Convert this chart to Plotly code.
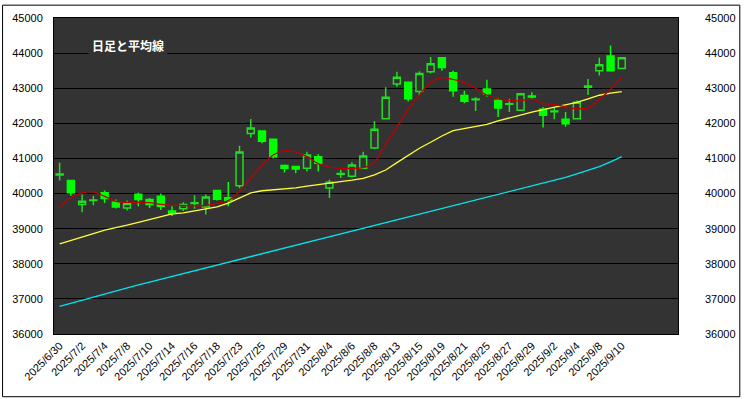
import plotly.graph_objects as go

dates = ["2025/6/30", "2025/7/1", "2025/7/2", "2025/7/3", "2025/7/4", "2025/7/7", "2025/7/8",
         "2025/7/9", "2025/7/10", "2025/7/11", "2025/7/14", "2025/7/15", "2025/7/16", "2025/7/17",
         "2025/7/18", "2025/7/22", "2025/7/23", "2025/7/24", "2025/7/25", "2025/7/28", "2025/7/29",
         "2025/7/30", "2025/7/31", "2025/8/1", "2025/8/4", "2025/8/5", "2025/8/6", "2025/8/7",
         "2025/8/8", "2025/8/12", "2025/8/13", "2025/8/14", "2025/8/15", "2025/8/18", "2025/8/19",
         "2025/8/20", "2025/8/21", "2025/8/22", "2025/8/25", "2025/8/26", "2025/8/27", "2025/8/28",
         "2025/8/29", "2025/9/1", "2025/9/2", "2025/9/3", "2025/9/4", "2025/9/5", "2025/9/8",
         "2025/9/9", "2025/9/10"]

open_ = [40530, 40370, 39690, 39800, 40020, 39750, 39590, 39980, 39830, 39920,
         39500, 39570, 39720, 39620, 40090, 39880, 40220, 41710, 41785, 41550,
         40800, 40770, 40720, 41050, 40160, 40550, 40490, 40720, 41300, 42130,
         43120, 43170, 42910, 43470, 43870, 43440, 42790, 42670, 42980, 42650,
         42540, 42370, 42780, 42400, 42330, 42115, 42130, 43030, 43500, 43920, 43560]
high = [40880, 40390, 39970, 39940, 40090, 39830, 39800, 40020, 39875, 40000,
        39640, 39750, 39950, 39970, 40110, 40330, 41360, 42120, 41800, 41560,
        40830, 40790, 41190, 41120, 40390, 40675, 40890, 41190, 42070, 43030,
        43470, 43180, 43480, 43890, 43880, 43500, 42930, 42745, 43240, 42725,
        42700, 42850, 42885, 42460, 42460, 42320, 42650, 43260, 43870, 44220, 43870]
low = [40370, 39940, 39470, 39670, 39730, 39575, 39520, 39640, 39590, 39530,
       39360, 39500, 39570, 39400, 39800, 39640, 40150, 41600, 41430, 41000,
       40600, 40580, 40630, 40630, 39870, 40440, 40460, 40690, 41270, 42115,
       43045, 42620, 42790, 43420, 43500, 42760, 42575, 42350, 42760, 42180,
       42320, 42360, 42700, 41880, 42115, 41900, 42120, 42810, 43360, 43500, 43560]
close = [40560, 40020, 39780, 39820, 39860, 39620, 39715, 39830, 39690, 39640,
         39430, 39690, 39740, 39900, 39840, 39800, 41180, 41870, 41490, 41050,
         40720, 40700, 41100, 40860, 40320, 40570, 40815, 41070, 41830, 42745,
         43310, 42700, 43420, 43700, 43590, 42930, 42630, 42690, 42840, 42440,
         42560, 42840, 42750, 42230, 42350, 41990, 42600, 43060, 43670, 43500, 43870]

ma_short = [39590, 39880, 40020, 40050, 39920, 39780, 39750, 39750, 39740, 39690,
            39670, 39660, 39650, 39660, 39720, 39800, 40070, 40450, 40800, 41100,
            41220, 41180, 41050, 40850, 40750, 40720, 40720, 40740, 40900, 41400,
            41900, 42400, 42800, 43170, 43300, 43250, 43160, 43000, 42800, 42700,
            42650, 42640, 42690, 42560, 42540, 42470, 42420, 42440, 42680, 42970, 43310]
ma_mid = [38570, 38660, 38760, 38860, 38960, 39020, 39100, 39180, 39260, 39340,
          39420, 39450, 39510, 39570, 39620, 39730, 39880, 40020, 40080, 40100,
          40130, 40160, 40210, 40260, 40300, 40340, 40380, 40430, 40530, 40670,
          40880, 41090, 41290, 41460, 41640, 41790, 41850, 41900, 41970, 42070,
          42160, 42250, 42320, 42390, 42460, 42520, 42600, 42700, 42800, 42860, 42900]
ma_long = [36790, 36880, 36970, 37060, 37140, 37230, 37320, 37400, 37480, 37560,
           37640, 37720, 37800, 37880, 37960, 38040, 38120, 38200, 38280, 38360,
           38440, 38520, 38600, 38680, 38760, 38840, 38920, 39000, 39080, 39160,
           39240, 39320, 39400, 39490, 39570, 39650, 39730, 39810, 39890, 39970,
           40050, 40130, 40210, 40290, 40370, 40460, 40560, 40660, 40770, 40900, 41050]

y_ticks = [36000, 37000, 38000, 39000, 40000, 41000, 42000, 43000, 44000, 45000]
title_text = "日足と平均線"

idx = list(range(len(dates)))
tick_idx = idx[::2]
tick_txt = dates[::2]

GREEN = "#00ff00"
BG = "#333333"

fig = go.Figure()
fig.add_trace(go.Scatter(x=idx, y=ma_long, mode="lines", line=dict(color="#00e5ee", width=1.3),
                         showlegend=False, hoverinfo="skip"))
fig.add_trace(go.Scatter(x=idx, y=ma_mid, mode="lines", line=dict(color="#ffff33", width=1.3),
                         showlegend=False, hoverinfo="skip"))
fig.add_trace(go.Scatter(x=idx, y=ma_short, mode="lines", line=dict(color="#c00000", width=1.3, shape="spline"),
                         showlegend=False, hoverinfo="skip"))
fig.add_trace(go.Candlestick(
    x=idx, open=open_, high=high, low=low, close=close,
    increasing=dict(line=dict(color="#22dd22", width=1.5), fillcolor=BG),
    decreasing=dict(line=dict(color=GREEN, width=1.5), fillcolor=GREEN),
    whiskerwidth=0, showlegend=False))
fig.add_trace(go.Scatter(x=[None], y=[None], yaxis="y2", showlegend=False, hoverinfo="skip"))

axis_font = dict(family="Liberation Sans, Arial, sans-serif", size=11, color="#000000")

fig.update_layout(
    width=748, height=399,
    margin=dict(l=53, r=64, t=14, b=65),
    paper_bgcolor="#ffffff",
    plot_bgcolor=BG,
    boxgap=0.12,
    showlegend=False,
    xaxis=dict(range=[-0.5, 55.0], tickmode="array", tickvals=tick_idx, ticktext=tick_txt,
               tickangle=-45, tickfont=dict(family="Liberation Sans, Arial, sans-serif", size=11, color="#000"),
               showgrid=False, zeroline=False, showline=True, linecolor="#000", linewidth=1,
               mirror=True, ticks="", rangeslider=dict(visible=False), fixedrange=True),
    yaxis=dict(range=[36000, 45000], tickmode="array", tickvals=y_ticks,
               tickfont=axis_font, showgrid=True, gridcolor="#000000", gridwidth=1,
               zeroline=False, showline=True, linecolor="#000", linewidth=1, mirror=True,
               ticks="", ticklabelstandoff=8, tickformat="d"),
    yaxis2=dict(range=[36000, 45000], overlaying="y", side="right", tickmode="array",
                tickvals=y_ticks, tickfont=axis_font, showgrid=False, zeroline=False,
                ticks="", ticklabelstandoff=26, tickformat="d", showline=False),
    annotations=[dict(text="<b>" + title_text + "</b>", xref="paper", yref="paper",
                      x=0.119, y=0.914, xanchor="center", yanchor="middle", showarrow=False,
                      font=dict(family="Noto Sans CJK JP", size=12, color="#ffffff"),
                      bgcolor=BG, borderpad=3)],
    shapes=[dict(type="rect", xref="paper", yref="paper",
                 x0=(1 - 53) / 631, x1=(746.5 - 53) / 631,
                 y0=(334 - 397.5) / 320, y1=(334 - 1) / 320,
                 line=dict(color="#000000", width=1), fillcolor="rgba(0,0,0,0)", layer="above")],
)

fig.write_html("out.html")
